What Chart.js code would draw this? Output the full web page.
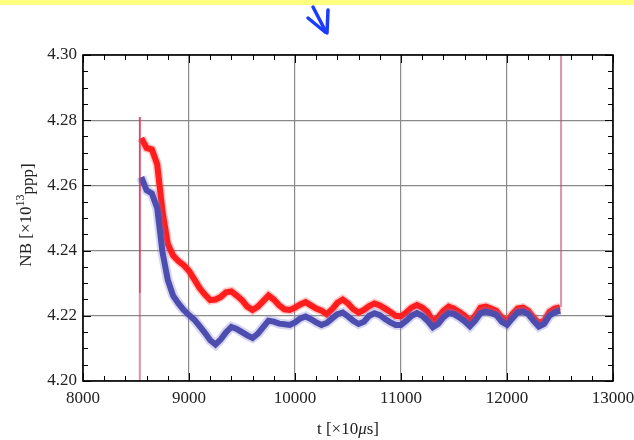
<!DOCTYPE html>
<html>
<head>
<meta charset="utf-8">
<script src="https://cdn.jsdelivr.net/npm/chart.js@4"></script>
<style>
  html, body { margin: 0; padding: 0; background: #fff; }
  #wrap { position: relative; width: 634px; height: 440px; }
  #band { position: absolute; left: 0; top: 0; width: 634px; height: 5px; background: #ffff80; }
  #mark { position: absolute; left: 0; top: 0; }
  canvas { position: absolute; left: 0; top: 0; }
</style>
</head>
<body>
<div id="wrap">
  <canvas id="nb-chart" width="634" height="440"></canvas>
  <div id="band"></div>
  <svg id="mark" width="634" height="40">
    <g stroke="#1a3cff" stroke-width="3.5" stroke-linecap="round" fill="none">
      <line x1="308" y1="18" x2="325" y2="32"/>
      <line x1="313" y1="7" x2="326" y2="32"/>
      <line x1="328" y1="10" x2="327" y2="33"/>
    </g>
  </svg>
</div>
<script>
// sampling grid of the traces (t in units of 10 us)
const tStart = 8550;
const tStep = 50;

// NB with the red trace
const redNB = [
  4.2745, 4.2715, 4.2710, 4.2665, 4.2520, 4.2420, 4.2385, 4.2368, 4.2355, 4.2338,
  4.2312, 4.2285, 4.2265, 4.2248, 4.2250, 4.2258, 4.2272, 4.2275, 4.2262, 4.2248,
  4.2228, 4.2218, 4.2228, 4.2245, 4.2262, 4.2250, 4.2232, 4.2220, 4.2218, 4.2225,
  4.2235, 4.2242, 4.2232, 4.2222, 4.2216, 4.2205, 4.2220, 4.2240, 4.2250, 4.2238,
  4.2220, 4.2210, 4.2218, 4.2230, 4.2238, 4.2232, 4.2222, 4.2212, 4.2200, 4.2198,
  4.2210, 4.2225, 4.2233, 4.2225, 4.2212, 4.2182, 4.2195, 4.2215, 4.2228, 4.2222,
  4.2212, 4.2200, 4.2182, 4.2200, 4.2225, 4.2228, 4.2222, 4.2215, 4.2195, 4.2182,
  4.2205, 4.2222, 4.2225, 4.2215, 4.2195, 4.2178, 4.2185, 4.2212, 4.2222, 4.2226
];

// NB with the blue trace
const blueNB = [
  4.2625, 4.2585, 4.2575, 4.2530, 4.2395, 4.2310, 4.2262, 4.2238, 4.2218, 4.2202,
  4.2188, 4.2168, 4.2148, 4.2125, 4.2112, 4.2128, 4.2150, 4.2166, 4.2160, 4.2150,
  4.2140, 4.2132, 4.2145, 4.2165, 4.2185, 4.2182, 4.2176, 4.2174, 4.2172, 4.2180,
  4.2192, 4.2198, 4.2190, 4.2180, 4.2172, 4.2178, 4.2192, 4.2205, 4.2210, 4.2198,
  4.2185, 4.2175, 4.2182, 4.2200, 4.2208, 4.2202, 4.2190, 4.2180, 4.2172, 4.2172,
  4.2185, 4.2200, 4.2208, 4.2200, 4.2185, 4.2165, 4.2175, 4.2195, 4.2208, 4.2205,
  4.2195, 4.2183, 4.2168, 4.2185, 4.2208, 4.2213, 4.2208, 4.2202, 4.2182, 4.2172,
  4.2192, 4.2210, 4.2213, 4.2205, 4.2185, 4.2167, 4.2175, 4.2200, 4.2210, 4.2216
];

// injection / extraction edges
const edgeT = [8536, 12510];
const injectLine = [4.200, 4.281];
const injectRed = [4.227, 4.281];
const extractLine = [4.2226, 4.300];

const xTicks = [8000, 9000, 10000, 11000, 12000, 13000];
const yTicks = [4.20, 4.22, 4.24, 4.26, 4.28, 4.30];

const toPoints = (vals) => vals.map((v, i) => ({ x: tStart + i * tStep, y: v }));

const FONT = "'Liberation Serif', 'Times New Roman', serif";

const frame = {
  id: 'frame',
  afterDatasetsDraw(chart) {
    const { ctx, chartArea: a, scales: { x, y } } = chart;
    ctx.save();
    ctx.strokeStyle = '#000';
    ctx.lineWidth = 1;
    // inward ticks on all four sides
    for (let t = xTicks[0]; t <= xTicks[xTicks.length - 1]; t += 200) {
      const px = Math.round(x.getPixelForValue(t)) + 0.5;
      const len = t % 1000 === 0 ? 8 : 5;
      ctx.beginPath();
      ctx.moveTo(px, a.bottom); ctx.lineTo(px, a.bottom - len);
      ctx.moveTo(px, a.top); ctx.lineTo(px, a.top + len);
      ctx.stroke();
    }
    for (let k = 0; k <= 20; k++) {
      const py = Math.round(y.getPixelForValue(4.20 + k * 0.005)) + 0.5;
      const len = k % 4 === 0 ? 8 : 5;
      ctx.beginPath();
      ctx.moveTo(a.left, py); ctx.lineTo(a.left + len, py);
      ctx.moveTo(a.right, py); ctx.lineTo(a.right - len, py);
      ctx.stroke();
    }
    ctx.lineWidth = 1.6;
    ctx.strokeRect(a.left, a.top, a.right - a.left, a.bottom - a.top);

    // axis titles
    ctx.fillStyle = '#222';
    ctx.textBaseline = 'alphabetic';
    const xt1 = 't [\u00d710', xt2 = '\u03bc', xt3 = 's]';
    ctx.font = `17px ${FONT}`;
    const w1 = ctx.measureText(xt1).width, w3 = ctx.measureText(xt3).width;
    ctx.font = `italic 17px ${FONT}`;
    const w2 = ctx.measureText(xt2).width;
    let sx = (a.left + a.right) / 2 - (w1 + w2 + w3) / 2;
    const by = 434;
    ctx.textAlign = 'left';
    ctx.font = `17px ${FONT}`; ctx.fillText(xt1, sx, by); sx += w1;
    ctx.font = `italic 17px ${FONT}`; ctx.fillText(xt2, sx, by); sx += w2;
    ctx.font = `17px ${FONT}`; ctx.fillText(xt3, sx, by);

    ctx.translate(31, 215);
    ctx.rotate(-Math.PI / 2);
    const p1 = 'NB [\u00d710', p2 = '13', p3 = 'ppp]';
    ctx.font = `17px ${FONT}`;
    const q1 = ctx.measureText(p1).width, q3 = ctx.measureText(p3).width;
    ctx.font = `12px ${FONT}`;
    const q2 = ctx.measureText(p2).width;
    let ox = -(q1 + q2 + q3) / 2;
    ctx.font = `17px ${FONT}`; ctx.fillText(p1, ox, 0); ox += q1;
    ctx.font = `12px ${FONT}`; ctx.fillText(p2, ox, -7); ox += q2;
    ctx.font = `17px ${FONT}`; ctx.fillText(p3, ox, 2);
    ctx.restore();
  }
};

new Chart(document.getElementById('nb-chart'), {
  type: 'scatter',
  data: {
    datasets: [
      {
        data: [{ x: edgeT[0], y: injectLine[0] }, { x: edgeT[0], y: injectLine[1] }],
        showLine: true, borderColor: 'rgba(200,70,120,0.6)', borderWidth: 2, pointRadius: 0
      },
      {
        data: [{ x: edgeT[1], y: extractLine[0] }, { x: edgeT[1], y: extractLine[1] }],
        showLine: true, borderColor: 'rgba(200,70,120,0.6)', borderWidth: 2, pointRadius: 0
      },
      {
        data: toPoints(blueNB),
        showLine: true, borderColor: 'rgba(120,120,210,0.3)', borderWidth: 10, pointRadius: 0
      },
      {
        data: toPoints(blueNB),
        showLine: true, borderColor: '#3c3ca2', borderWidth: 6, pointRadius: 0
      },
      {
        data: toPoints(redNB),
        showLine: true, borderColor: 'rgba(255,60,60,0.3)', borderWidth: 9, pointRadius: 0
      },
      {
        data: toPoints(redNB),
        showLine: true, borderColor: '#ff1010', borderWidth: 6, pointRadius: 0
      },
      {
        data: [{ x: edgeT[0], y: injectRed[0] }, { x: edgeT[0], y: injectRed[1] }],
        showLine: true, borderColor: 'rgba(255,20,20,0.8)', borderWidth: 1.5, pointRadius: 0
      }
    ]
  },
  plugins: [frame],
  options: {
    responsive: false,
    animation: false,
    layout: { padding: { top: 55, right: 21, bottom: 0, left: 0 } },
    plugins: {
      legend: { display: false },
      tooltip: { enabled: false }
    },
    scales: {
      x: {
        type: 'linear',
        min: 8000,
        max: 13000,
        afterFit: (scale) => {
          scale.height = 59;
          scale.paddingLeft = 0;
          scale.paddingRight = 0;
        },
        afterBuildTicks: (scale) => { scale.ticks = xTicks.map(v => ({ value: v })); },
        ticks: {
          padding: 7,
          color: '#222',
          font: { family: FONT, size: 17 },
          maxRotation: 0,
          callback: (v) => String(v)
        },
        grid: { color: '#8a8a8a', lineWidth: 1.2, drawTicks: false },
        border: { display: false }
      },
      y: {
        min: 4.20,
        max: 4.30,
        afterFit: (scale) => {
          scale.width = 83;
          scale.paddingTop = 0;
          scale.paddingBottom = 0;
        },
        afterBuildTicks: (scale) => { scale.ticks = yTicks.map(v => ({ value: v })); },
        ticks: {
          padding: 6,
          color: '#222',
          font: { family: FONT, size: 17 },
          callback: (v) => v.toFixed(2)
        },
        grid: { color: '#8a8a8a', lineWidth: 1.2, drawTicks: false },
        border: { display: false }
      }
    }
  }
});
</script>
</body>
</html>
